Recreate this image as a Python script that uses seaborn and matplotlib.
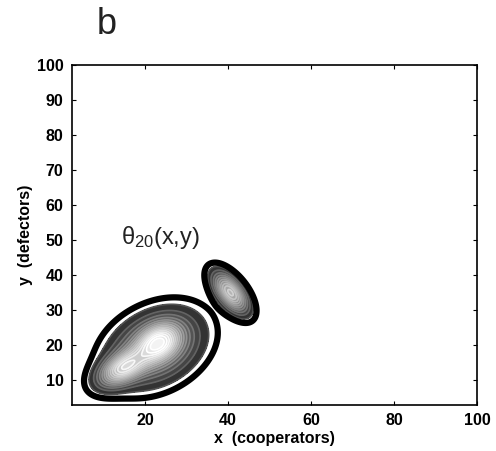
import numpy as np
import matplotlib
matplotlib.use("Agg")
import matplotlib.pyplot as plt
import seaborn as sns

# Mixture components of theta_20(x, y): centres, spreads, correlation, weight
comp_x = [14.5, 23.4, 22.5, 40.6]
comp_y = [13.3, 20.9, 19.2, 35.0]
comp_sx = [3.7, 3.4, 7.0, 2.7]
comp_sy = [3.3, 3.5, 6.7, 3.7]
comp_rho = [0.5, 0.3, 0.3, -0.6]
comp_w = [0.68, 0.6, 0.5, 0.72]

x_ticks = [20, 40, 60, 80, 100]
y_ticks = [10, 20, 30, 40, 50, 60, 70, 80, 90, 100]

sns.set_theme(style="ticks")
plt.rcParams["font.family"] = ["Liberation Sans", "DejaVu Sans"]
plt.rcParams["mathtext.fontset"] = "custom"
plt.rcParams["mathtext.rm"] = "Liberation Sans"
plt.rcParams["mathtext.it"] = "Liberation Sans"
plt.rcParams["text.color"] = "black"
plt.rcParams["axes.labelcolor"] = "black"
plt.rcParams["xtick.color"] = "black"
plt.rcParams["ytick.color"] = "black"

fig = plt.figure(figsize=(4.96, 4.51), dpi=100)
ax = fig.add_axes([0.145, 0.102, 0.817, 0.754])

gx = np.linspace(2.4, 100, 600)
gy = np.linspace(2.9, 100, 600)
X, Y = np.meshgrid(gx, gy)
Z = np.zeros_like(X)
for mx, my, sx, sy, r, w in zip(comp_x, comp_y, comp_sx, comp_sy, comp_rho, comp_w):
    dx = (X - mx) / sx
    dy = (Y - my) / sy
    q = (dx * dx - 2 * r * dx * dy + dy * dy) / (1 - r * r)
    Z += w * np.exp(-0.5 * q)
Z /= Z.max()

outer = 0.045
inner = np.linspace(0.085, 1.0, 16)
t = (inner - inner[0]) / (inner[-1] - inner[0])
band_grey = 0.2 + 0.8 * t ** 0.9
line_grey = np.clip(band_grey + 0.12, 0, 1)
ax.contourf(X, Y, Z, levels=list(inner) + [1.01],
            colors=[str(g) for g in band_grey])
ax.contour(X, Y, Z, levels=inner, colors=[str(g) for g in line_grey],
           linewidths=1.2)
ax.contour(X, Y, Z, levels=[outer], colors="black", linewidths=4.5)

ax.set_xlim(2.4, 100)
ax.set_ylim(2.9, 100)
ax.set_xticks(x_ticks)
ax.set_yticks(y_ticks)
ax.tick_params(direction="in", length=3, width=0.8, top=True, right=True,
               labelsize=11.5, pad=6)
for lab in ax.get_xticklabels() + ax.get_yticklabels():
    lab.set_fontweight("bold")
for s in ax.spines.values():
    s.set_linewidth(1.2)
    s.set_color("black")
ax.set_xlabel("x  (cooperators)", fontsize=11.5, fontweight="bold", labelpad=2)
ax.set_ylabel("y  (defectors)", fontsize=11.5, fontweight="bold", labelpad=3)

ax.text(14.2, 49, r"$\theta_{20}$(x,y)", fontsize=17, color="#222222")
fig.text(0.195, 0.946, "b", fontsize=26, va="center", ha="left", color="#222222")

fig.savefig("out.png", dpi=100)
